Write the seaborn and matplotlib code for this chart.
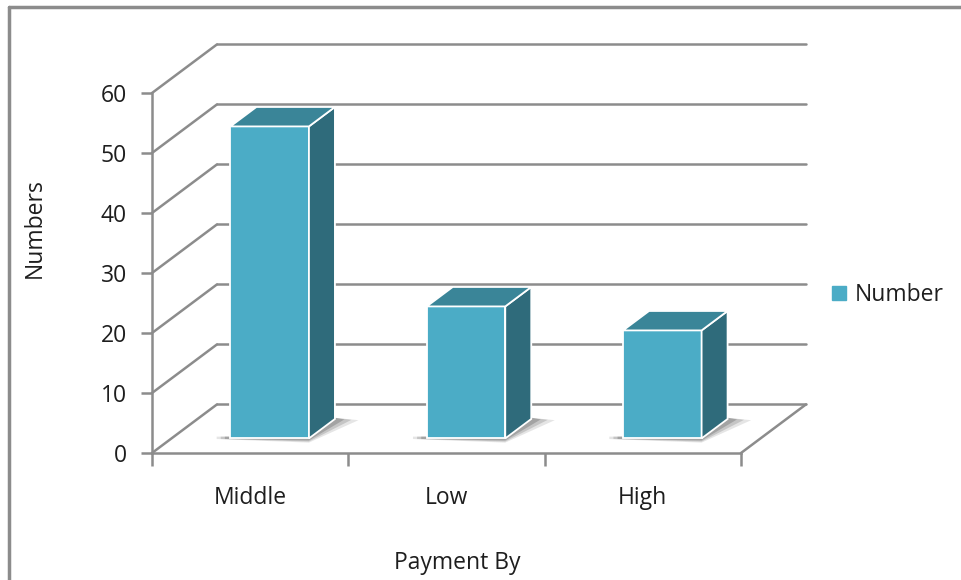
import numpy as np
import pandas as pd
import matplotlib
matplotlib.use("Agg")
import matplotlib.pyplot as plt
import matplotlib.transforms as mtransforms
from matplotlib.patches import Polygon, Patch
from matplotlib.lines import Line2D
import seaborn as sns

categories = ["Middle", "Low", "High"]
numbers = [52, 22, 18]
y_ticks = [0, 10, 20, 30, 40, 50, 60]
series_name = "Number"

sns.set_theme(style="white")
plt.rcParams['font.family'] = ['Open Sans', 'DejaVu Sans']

FRONT = "#4bacc6"
TOP = "#3a8598"
SIDE = "#2f6b7b"
GRID = "#8c8c8c"
TXT = "#1e1e1e"
FS = 16.5

# depth of the fake 3d box in data units (x: categories, y: values)
DX, DY = 0.331, 8.1
Z0, Z1 = 0.3, 0.7   # bar front / back as fraction of depth

fig = plt.figure(figsize=(9.61, 5.8), dpi=100)
ax = fig.add_axes([152 / 961, 127 / 580, 589 / 961, 360 / 580])

df = pd.DataFrame({"Payment By": categories, "Numbers": numbers})
sns.barplot(data=df, x="Payment By", y="Numbers", color=FRONT, width=0.4,
            saturation=1, ax=ax, edgecolor="white", linewidth=1.3, zorder=5)
ax.set_xlim(-0.5, 2.5)
ax.set_ylim(0, 60)

# walls and floor
for v in y_ticks:
    ax.plot([-0.5, -0.5 + DX], [v, v + DY], color=GRID, lw=1.8, clip_on=False, zorder=1)
    ax.plot([-0.5 + DX, 2.5 + DX], [v + DY, v + DY], color=GRID, lw=1.8, clip_on=False, zorder=1)
ax.plot([2.5, 2.5 + DX], [0, DY], color=GRID, lw=1.8, clip_on=False, zorder=1)

# push the bars back into the box and add top / side faces
off = mtransforms.Affine2D().translate(Z0 * DX, Z0 * DY) + ax.transData
ddx, ddy = (Z1 - Z0) * DX, (Z1 - Z0) * DY
for p in ax.patches[:len(numbers)]:
    x0, w, h = p.get_x(), p.get_width(), p.get_height()
    p.set_transform(off)
    p.set_clip_on(False)
    # soft drop shadow on the floor
    for k, a in [(1.0, 0.15), (0.7, 0.22), (0.4, 0.3)]:
        shadow = Polygon([(x0 - 0.07 * k, -0.1), (x0 + w, -0.1 - 0.6 * k),
                          (x0 + w + ddx + 0.12 * k, ddy - 0.2 * k),
                          (x0 + w + ddx, ddy + 0.2), (x0 + w, 0.3), (x0 - 0.07 * k, 0.3)],
                         closed=True, facecolor="#555555", edgecolor="none", alpha=a,
                         transform=off, clip_on=False, zorder=3)
        ax.add_patch(shadow)
    top = Polygon([(x0, h), (x0 + w, h), (x0 + w + ddx, h + ddy), (x0 + ddx, h + ddy)],
                  closed=True, facecolor=TOP, edgecolor="white", lw=1.3,
                  transform=off, clip_on=False, zorder=5)
    side = Polygon([(x0 + w, 0), (x0 + w, h), (x0 + w + ddx, h + ddy), (x0 + w + ddx, ddy)],
                   closed=True, facecolor=SIDE, edgecolor="white", lw=1.3,
                   transform=off, clip_on=False, zorder=5)
    ax.add_patch(side)
    ax.add_patch(top)

# axes styling
for s in ["top", "right"]:
    ax.spines[s].set_visible(False)
for s in ["left", "bottom"]:
    ax.spines[s].set_color(GRID)
    ax.spines[s].set_linewidth(1.8)
    ax.spines[s].set_zorder(6)
ax.set_yticks(y_ticks)
ax.tick_params(axis="y", direction="out", length=8, width=1.8, color=GRID,
               labelsize=FS, labelcolor=TXT, pad=10, left=True)
ax.set_xticks([-0.5, 0.5, 1.5, 2.5])
ax.set_xticklabels([])
ax.set_xticks([0, 1, 2], minor=True)
ax.set_xticklabels(categories, minor=True)
ax.tick_params(axis="x", which="major", direction="out", length=9, width=1.8, color=GRID, bottom=True)
ax.tick_params(axis="x", which="minor", length=0, labelsize=FS, labelcolor=TXT, pad=24)
ax.set_xlabel("")
ax.set_ylabel("")

fig.text(35 / 961, 1 - 228 / 580, "Numbers", rotation=90, ha="center", va="center",
         fontsize=FS, color=TXT)
fig.text(457 / 961, 1 - 563 / 580, "Payment By", ha="center", va="center",
         fontsize=FS, color=TXT)

ax.legend(handles=[Patch(color=FRONT, label=series_name)], loc="center left",
          bbox_to_anchor=(832 / 961, 1 - 295 / 580), bbox_transform=fig.transFigure,
          frameon=False, handlelength=0.6, handleheight=0.6, handletextpad=0.4,
          borderpad=0, borderaxespad=0, fontsize=FS, labelcolor=TXT)

# chart area border (cropped: top and left only)
fig.add_artist(Line2D([9 / 961, 9 / 961], [0, 1 - 7 / 580], color=GRID, lw=2.5))
fig.add_artist(Line2D([9 / 961, 1], [1 - 7 / 580, 1 - 7 / 580], color=GRID, lw=2.5))

fig.savefig("out.png", dpi=100, facecolor="white")
